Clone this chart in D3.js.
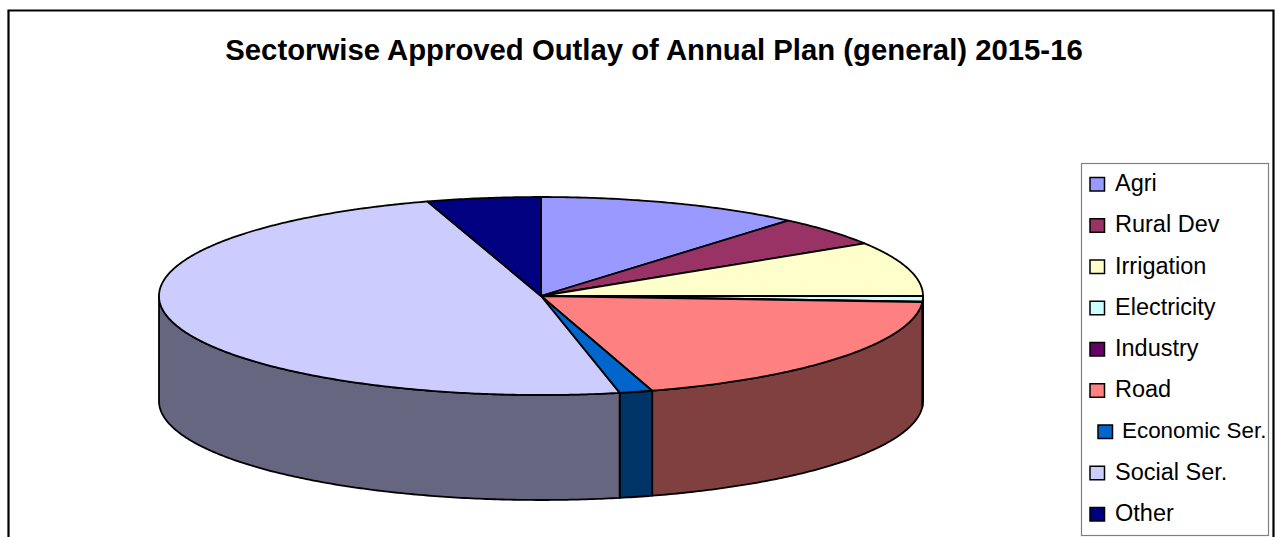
<!DOCTYPE html>
<html><head><meta charset="utf-8">
<script src="https://cdn.jsdelivr.net/npm/d3@7/dist/d3.min.js"></script>
<style>html,body{margin:0;padding:0;background:#fff;overflow:hidden}svg{display:block}text{font-family:"Liberation Sans",Arial,sans-serif;fill:#000}</style>
</head><body><svg id="c" width="1280" height="537"></svg>
<script>
const titleText = "Sectorwise Approved Outlay of Annual Plan (general) 2015-16";
const categories = ["Agri","Rural Dev","Irrigation","Electricity","Industry","Road","Economic Ser.","Social Ser.","Other"];
const values = [11.2,4.9,8.9,0.9,0.1,19.3,1.4,48.5,4.8];
const topColors = ["#9999FF","#993366","#FFFFCC","#CCFFFF","#660066","#FF8080","#0066CC","#CCCCFF","#000080"];
const wallColors = ["#4D4D80","#4D1A33","#808066","#668080","#330033","#804040","#003366","#666680","#000040"];

const svg = d3.select("#c");
const W=1280,H=537;
svg.append("path").attr("d",`M8.5 ${H+5}V10.5H1273.5V${H+5}`).attr("fill","none").attr("stroke","#000").attr("stroke-width",2.2);
svg.append("text").attr("x",654).attr("y",60).attr("text-anchor","middle").attr("font-size",29.3).attr("font-weight","bold").text(titleText);

const cx=541,cy=296,rx=382,ry=99,depth=105;
const pie=d3.pie().sort(null).value(d=>d.v).startAngle(0).endAngle(2*Math.PI);
const arcs=pie(categories.map((n,i)=>({n,v:values[i],i})));
const px=d3.scaleLinear().domain([-1,1]).range([cx-rx,cx+rx]);
const py=d3.scaleLinear().domain([-1,1]).range([cy-ry,cy+ry]);
const pt=(a,dy=0)=>[px(Math.sin(a)),py(-Math.cos(a))+dy];
const line=d3.line();
const sweep=(s,e)=>{const n=Math.max(4,Math.ceil((e-s)/0.01));return d3.range(0,n+1).map(k=>s+(e-s)*k/n);};

// side walls (only the front half of the disc is visible)
const lo=Math.PI/2,hi=3*Math.PI/2;
const wallG=svg.append("g");
arcs.forEach(a=>{
  const s=Math.max(a.startAngle,lo),e=Math.min(a.endAngle,hi);
  if(e<=s) return;
  const ang=sweep(s,e);
  const pts=ang.map(t=>pt(t)).concat(ang.slice().reverse().map(t=>pt(t,depth)));
  wallG.append("path").attr("d",line(pts)+"Z")
    .attr("fill",wallColors[a.data.i]).attr("stroke","#000").attr("stroke-width",1.8).attr("stroke-linejoin","round");
});

// top face
const topG=svg.append("g");
arcs.forEach(a=>{
  const pts=[[cx,cy]].concat(sweep(a.startAngle,a.endAngle).map(t=>pt(t)));
  topG.append("path").attr("d",line(pts)+"Z")
    .attr("fill",topColors[a.data.i]).attr("stroke","#000").attr("stroke-width",1.8).attr("stroke-linejoin","round");
});

// legend
const lg=svg.append("g");
lg.append("rect").attr("x",1081.5).attr("y",163.5).attr("width",187).attr("height",372)
  .attr("fill","#fff").attr("stroke","#808080").attr("stroke-width",1.2);
const rowY=d3.scalePoint().domain(categories).range([183,513]);
categories.forEach((n,i)=>{
  const small=n==="Economic Ser.";
  const y=rowY(n), sx=small?1098:1090;
  lg.append("rect").attr("x",sx).attr("y",y-5.5).attr("width",14.5).attr("height",13.5)
    .attr("fill",topColors[i]).attr("stroke","#000").attr("stroke-width",1.5);
  lg.append("text").attr("x",small?1122:1115).attr("y",y+(small?7.5:8))
    .attr("font-size",small?22.4:23.5).text(n);
});
</script></body></html>
